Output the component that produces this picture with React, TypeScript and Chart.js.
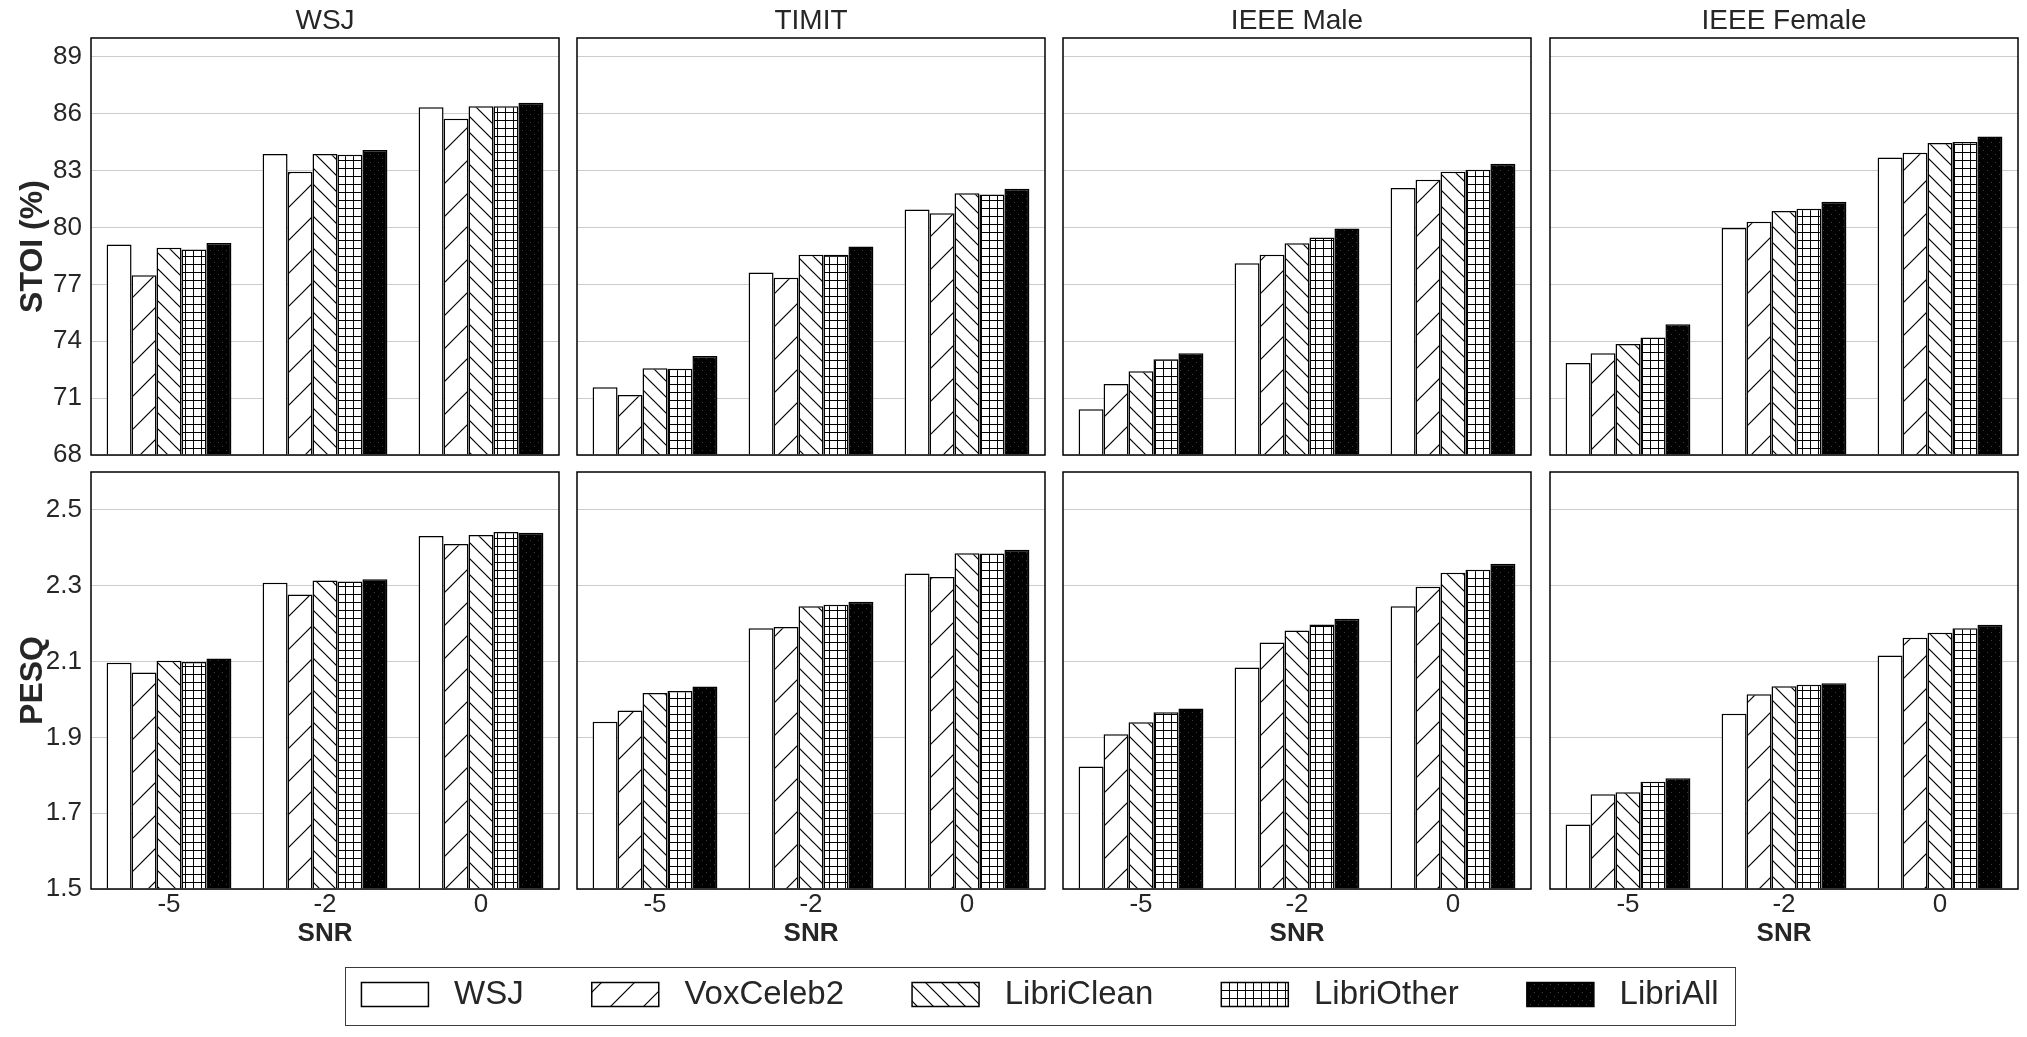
import { useEffect, useRef } from "react";
import { Chart, ChartConfiguration, Plugin, registerables } from "chart.js";

Chart.register(...registerables);

const snrLabels = ["-5", "-2", "0"];
const corpora = ["WSJ", "TIMIT", "IEEE Male", "IEEE Female"];
const models = ["WSJ", "VoxCeleb2", "LibriClean", "LibriOther", "LibriAll"];

// STOI (%) - one row per training set (models), columns follow snrLabels
const stoiWSJ = [
  [79.1, 83.88, 86.35],
  [77.48, 82.95, 85.74],
  [78.93, 83.88, 86.4],
  [78.84, 83.84, 86.4],
  [79.19, 84.09, 86.58],
];
const stoiTIMIT = [
  [71.58, 77.63, 80.95],
  [71.16, 77.35, 80.76],
  [72.58, 78.57, 81.81],
  [72.55, 78.57, 81.75],
  [73.22, 79.0, 82.05],
];
const stoiMale = [
  [70.41, 78.11, 82.08],
  [71.74, 78.57, 82.52],
  [72.42, 79.17, 82.95],
  [73.05, 79.48, 83.05],
  [73.37, 79.95, 83.37],
];
const stoiFemale = [
  [72.85, 79.98, 83.69],
  [73.37, 80.3, 83.95],
  [73.85, 80.87, 84.46],
  [74.2, 80.99, 84.51],
  [74.9, 81.36, 84.8],
];

// PESQ
const pesqWSJ = [
  [2.097, 2.308, 2.431],
  [2.071, 2.277, 2.41],
  [2.102, 2.314, 2.434],
  [2.099, 2.311, 2.442],
  [2.108, 2.317, 2.44],
];
const pesqTIMIT = [
  [1.941, 2.188, 2.332],
  [1.971, 2.191, 2.323],
  [2.017, 2.246, 2.386],
  [2.022, 2.25, 2.385],
  [2.034, 2.258, 2.395],
];
const pesqMale = [
  [1.823, 2.084, 2.246],
  [1.908, 2.15, 2.297],
  [1.94, 2.182, 2.334],
  [1.966, 2.198, 2.342],
  [1.976, 2.213, 2.358],
];
const pesqFemale = [
  [1.67, 1.962, 2.116],
  [1.75, 2.014, 2.163],
  [1.755, 2.035, 2.176],
  [1.783, 2.039, 2.188],
  [1.792, 2.043, 2.197],
];

const stoiTicks = [68, 71, 74, 77, 80, 83, 86, 89];
const pesqTicks = [1.5, 1.7, 1.9, 2.1, 2.3, 2.5];
const stoiRange = [68, 90];
const pesqRange = [1.5, 2.6];

const rows = [
  { title: "STOI (%)", data: [stoiWSJ, stoiTIMIT, stoiMale, stoiFemale], ticks: stoiTicks, range: stoiRange, digits: 0 },
  { title: "PESQ", data: [pesqWSJ, pesqTIMIT, pesqMale, pesqFemale], ticks: pesqTicks, range: pesqRange, digits: 1 },
];

const FONT = "'Liberation Sans', Arial, sans-serif";
const INK = "#262626";

// page geometry
const colLeft = [91, 577, 1063, 1550];
const plotW = 468;
const plotH = 417;
const rowTop = [38, 472];
const yAxisW = 90;
const pad = 4;
const vPad = 30; // room for the outer tick labels so chart.js doesn't shrink the plot
const xAxisH = 60;

// hatch fills, one per training set
function makeFills(ctx: CanvasRenderingContext2D): (string | CanvasPattern)[] {
  const tile = (size: number, bg: string, draw: (c: CanvasRenderingContext2D, s: number) => void) => {
    const cv = document.createElement("canvas");
    cv.width = size;
    cv.height = size;
    const c = cv.getContext("2d")!;
    c.fillStyle = bg;
    c.fillRect(0, 0, size, size);
    c.strokeStyle = "#000";
    c.lineWidth = 1.2;
    draw(c, size);
    return ctx.createPattern(cv, "repeat")!;
  };
  const line = (c: CanvasRenderingContext2D, x0: number, y0: number, x1: number, y1: number) => {
    c.beginPath();
    c.moveTo(x0, y0);
    c.lineTo(x1, y1);
    c.stroke();
  };
  const slash = tile(33, "#fff", (c, s) => {
    line(c, -2, 2, 2, -2);
    line(c, -2, s + 2, s + 2, -2);
    line(c, s - 2, s + 2, s + 2, s - 2);
  });
  const back = tile(16, "#fff", (c, s) => {
    line(c, -2, -2, s + 2, s + 2);
    line(c, -2, s - 2, 2, s + 2);
    line(c, s - 2, -2, s + 2, 2);
  });
  const grid = tile(8, "#fff", (c, s) => {
    c.fillStyle = "#000";
    c.fillRect(0, 0, s, 1);
    c.fillRect(0, 0, 1, s);
  });
  const dots = tile(8, "#000", (c) => {
    c.fillStyle = "#3c3c3c";
    c.fillRect(1, 2, 1, 1);
    c.fillRect(5, 6, 1, 1);
  });
  return ["#fff", slash, back, grid, dots];
}

const framePlugin: Plugin<"bar"> = {
  id: "frame",
  afterDatasetsDraw(chart) {
    const { ctx, chartArea: a } = chart;
    ctx.save();
    ctx.strokeStyle = "#000";
    ctx.lineWidth = 1.5;
    ctx.strokeRect(a.left, a.top, a.right - a.left, a.bottom - a.top);
    ctx.restore();
  },
};

function panelConfig(r: number, c: number, fills: (string | CanvasPattern)[]): ChartConfiguration<"bar"> {
  const row = rows[r];
  return {
    type: "bar",
    data: {
      labels: snrLabels,
      datasets: models.map((m, i) => ({
        label: m,
        data: row.data[c][i],
        backgroundColor: fills[i],
        borderColor: "#000",
        borderWidth: 1.5,
        base: row.range[0],
        categoryPercentage: 0.8,
        barPercentage: 1,
      })),
    },
    options: {
      responsive: false,
      animation: false,
      events: [],
      layout: {
        padding: {
          left: c === 0 ? 0 : pad,
          right: pad,
          top: r === 0 ? 0 : vPad,
          bottom: r === 0 ? vPad : 0,
        },
      },
      plugins: {
        legend: { display: false },
        tooltip: { enabled: false },
        title: {
          display: r === 0,
          fullSize: false,
          text: corpora[c],
          color: INK,
          font: { family: FONT, size: 28, weight: "normal" },
          padding: { top: 4.4, bottom: 0 },
        },
      },
      scales: {
        x: {
          display: r === 1,
          grid: { display: false, drawTicks: false },
          border: { display: false },
          ticks: { color: INK, font: { family: FONT, size: 26 }, padding: 0, maxRotation: 0 },
          title: {
            display: true,
            text: "SNR",
            color: INK,
            font: { family: FONT, size: 26, weight: "bold" },
            padding: { top: 0, bottom: 0 },
          },
          afterFit: (s) => {
            s.height = r === 1 ? xAxisH : 0;
          },
        },
        y: {
          min: row.range[0],
          max: row.range[1],
          grid: { color: "#cccccc", lineWidth: 1, drawTicks: false },
          border: { display: false },
          ticks: {
            display: c === 0,
            color: INK,
            font: { family: FONT, size: 26 },
            padding: 9,
            callback: (v) => Number(v).toFixed(row.digits),
          },
          afterBuildTicks: (s) => {
            s.ticks = row.ticks.map((v) => ({ value: v }));
          },
          title: {
            display: c === 0,
            text: row.title,
            color: INK,
            font: { family: FONT, size: 32, weight: "bold" },
            padding: { top: 13, bottom: 0 },
          },
          afterFit: (s) => {
            s.width = c === 0 ? yAxisW : 0;
          },
        },
      },
    },
    plugins: [framePlugin],
  };
}

function Panel({ r, c }: { r: number; c: number }) {
  const ref = useRef<HTMLCanvasElement | null>(null);

  useEffect(() => {
    if (!ref.current) return;
    const ctx = ref.current.getContext("2d")!;
    const chart = new Chart(ctx, panelConfig(r, c, makeFills(ctx)));
    return () => chart.destroy();
  }, [r, c]);

  const leftSpace = c === 0 ? yAxisW : pad;
  const w = leftSpace + plotW + pad;
  const top = r === 0 ? 0 : rowTop[1] - vPad;
  const h = r === 0 ? rowTop[0] + plotH + vPad : vPad + plotH + xAxisH;
  return (
    <canvas
      ref={ref}
      width={w}
      height={h}
      style={{ position: "absolute", left: colLeft[c] - leftSpace, top, width: w, height: h }}
    />
  );
}

function Legend() {
  const ref = useRef<HTMLCanvasElement | null>(null);

  useEffect(() => {
    if (!ref.current) return;
    const ctx = ref.current.getContext("2d")!;
    const fills = makeFills(ctx);
    const chart = new Chart(ctx, {
      type: "bar",
      data: {
        labels: [],
        datasets: models.map((m, i) => ({
          label: m,
          data: [],
          backgroundColor: fills[i],
          borderColor: "#000",
          borderWidth: 1.5,
        })),
      },
      options: {
        responsive: false,
        animation: false,
        events: [],
        scales: { x: { display: false }, y: { display: false } },
        plugins: {
          tooltip: { enabled: false },
          legend: {
            display: true,
            position: "top",
            maxHeight: 125,
            labels: {
              color: INK,
              font: { family: FONT, size: 33 },
              boxWidth: 67,
              boxHeight: 24,
              padding: 68,
              generateLabels: (ch) =>
                Chart.defaults.plugins.legend.labels
                  .generateLabels(ch)
                  .map((it) => ({ ...it, text: " " + it.text })),
            },
          },
        },
      },
    });
    return () => chart.destroy();
  }, []);

  return (
    <canvas
      ref={ref}
      width={1590}
      height={126}
      style={{ position: "absolute", left: 245, top: 910, width: 1590, height: 126 }}
    />
  );
}

export default function App() {
  return (
    <div style={{ position: "absolute", left: 0, top: 0, width: 2027, height: 1037, background: "#fff" }}>
      {[0, 1].map((r) => [0, 1, 2, 3].map((c) => <Panel key={`${r}-${c}`} r={r} c={c} />))}
      <div
        style={{
          position: "absolute",
          left: 345,
          top: 967,
          width: 1391,
          height: 59,
          boxSizing: "border-box",
          border: "1px solid #3a3a3a",
        }}
      />
      <Legend />
    </div>
  );
}
